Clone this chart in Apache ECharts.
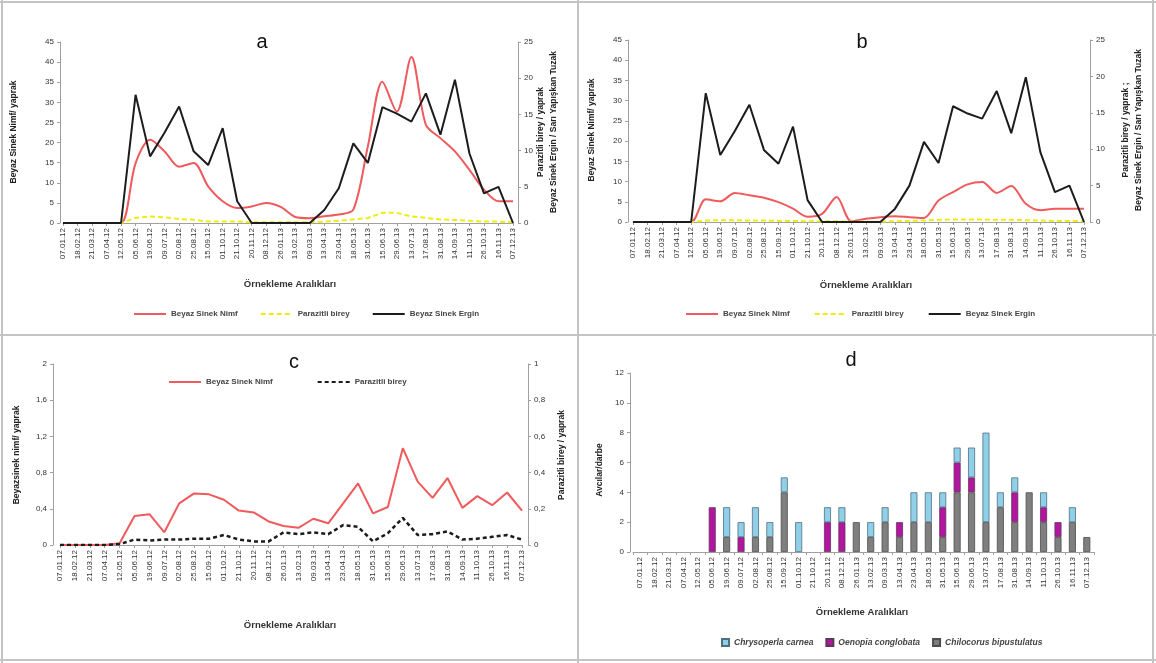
<!DOCTYPE html>
<html><head><meta charset="utf-8">
<script src="https://cdn.jsdelivr.net/npm/echarts@6/dist/echarts.min.js"></script>
<style>
body{margin:0;background:#fff;}
#wrap{position:relative;width:1156px;height:663px;background:#fff;overflow:hidden;}
.p{position:absolute;}
.ln{position:absolute;background:#c4c4c4;}
</style></head><body>
<div id="wrap">
<div id="pa" class="p" style="left:0;top:0;width:578px;height:336px"></div>
<div id="pb" class="p" style="left:578px;top:0;width:578px;height:336px"></div>
<div id="pc" class="p" style="left:0;top:336px;width:578px;height:327px"></div>
<div id="pd" class="p" style="left:578px;top:336px;width:578px;height:327px"></div>
<div class="ln" style="left:0;top:1px;width:1156px;height:2px"></div>
<div class="ln" style="left:1px;top:0;width:2px;height:663px"></div>
<div class="ln" style="left:1152px;top:0;width:2px;height:663px"></div>
<div class="ln" style="left:0;top:659px;width:1156px;height:2px"></div>
<div class="ln" style="left:577px;top:0;width:2px;height:663px"></div>
<div class="ln" style="left:0;top:334px;width:1156px;height:2px"></div>
</div>
<script>
const categories = ['07.01.12','18.02.12','21.03.12','07.04.12','12.05.12','05.06.12','19.06.12','09.07.12','02.08.12','25.08.12','15.09.12','01.10.12','21.10.12','20.11.12','08.12.12','26.01.13','13.02.13','09.03.13','13.04.13','23.04.13','18.05.13','31.05.13','15.06.13','29.06.13','13.07.13','17.08.13','31.08.13','14.09.13','11.10.13','26.10.13','16.11.13','07.12.13'];

// panel a
const nimfA    = [0,0,0,0,0,14.9,20.7,17.8,14.0,14.9,9.1,5.4,3.7,4.1,5.0,4.0,1.5,1.2,1.7,2.1,3.3,19,35.1,27.7,41.3,24.4,21.1,17.8,13.2,8.3,5.4,5.4];
const parazitA = [0,0,0,0,0,0.7,0.9,0.8,0.55,0.45,0.2,0.2,0.2,0.1,0.1,0.1,0.1,0.1,0.2,0.3,0.5,0.7,1.4,1.4,0.9,0.7,0.5,0.4,0.3,0.2,0.2,0.1];
const erginA   = [0,0,0,0,0,17.7,9.2,12.5,16.1,9.9,8.0,13.1,3.0,0,0,0,0,0,1.8,4.8,11.0,8.3,16.0,15.1,14.0,17.9,12.2,19.8,9.6,4.1,5.0,0];
// panel b
const nimfB    = [0,0,0,0,0,5.6,5.1,7.2,6.6,6.0,4.9,3.3,1.3,2.0,6.2,0.2,0.8,1.2,1.4,1.2,1.0,5.3,7.4,9.3,9.9,7.2,8.9,4.5,2.9,3.3,3.3,3.3];
const parazitB = [0,0,0,0,0,0.2,0.25,0.25,0.2,0.2,0.15,0.15,0.1,0.1,0.1,0.05,0.05,0.05,0.1,0.15,0.2,0.3,0.35,0.35,0.35,0.3,0.3,0.25,0.2,0.15,0.15,0.1];
const erginB   = [0,0,0,0,0,17.7,9.2,12.5,16.1,9.9,8.0,13.1,3.0,0,0,0,0,0,1.8,5.0,11.0,8.1,15.9,14.9,14.2,18.0,12.2,19.9,9.6,4.1,5.0,0];
// panel c
const nimfC    = [0,0,0,0,0.02,0.32,0.34,0.14,0.46,0.57,0.56,0.50,0.38,0.36,0.26,0.21,0.19,0.29,0.24,0.46,0.68,0.35,0.42,1.07,0.70,0.52,0.74,0.41,0.54,0.44,0.58,0.38];
const parazitC = [0,0,0,0,0.005,0.03,0.025,0.03,0.03,0.035,0.035,0.055,0.03,0.02,0.02,0.07,0.06,0.07,0.06,0.11,0.10,0.02,0.065,0.15,0.055,0.06,0.075,0.03,0.035,0.045,0.055,0.03];
// panel d
const chilocorus  = [0,0,0,0,0,0,1,0,1,1,4,0,0,0,0,2,1,2,1,2,2,1,4,4,2,3,2,4,2,1,2,1];
const oenopia     = [0,0,0,0,0,3,0,1,0,0,0,0,0,2,2,0,0,0,1,0,0,2,2,1,0,0,2,0,1,1,0,0];
const chrysoperla = [0,0,0,0,0,0,2,1,2,1,1,2,0,1,1,0,1,1,0,2,2,1,1,2,6,1,1,0,1,0,1,0];

const FONT = "'Liberation Sans', Arial, sans-serif";
const AX = '#a0a0a0';
const RED = '#f05a5c', YEL = '#eded10', BLK = '#1c1c1c';

function xAx(boundary){
  return {type:'category', data:categories, boundaryGap:boundary,
    axisLine:{lineStyle:{color:AX}}, axisTick:{show:true,length:3,lineStyle:{color:AX}},
    axisLabel:{rotate:90, interval:0, fontSize:8, color:'#333', fontFamily:FONT, margin:5}};
}
function yAx(min,max,interval,pos,offset,fmt){
  return {type:'value', min:min, max:max, interval:interval, position:pos, offset:offset,
    splitLine:{show:false}, axisLine:{show:true,lineStyle:{color:AX}},
    axisTick:{show:true,length:3,lineStyle:{color:AX}},
    axisLabel:{fontSize:8, color:'#333', fontFamily:FONT, margin:6, formatter:fmt}};
}
function txt(x,y,text,o){
  o = o || {};
  return {type:'text', x:x, y:y, rotation:o.rot||0, silent:true,
    style:{text:text, fontSize:o.size||9, fontFamily:FONT, fill:o.fill||'#222',
      fontWeight:o.weight||'normal', fontStyle:o.style||'normal',
      align:'center', verticalAlign:'middle', lineHeight:o.lh||13}};
}
const comma = v => String(Math.round(v*10)/10).replace('.', ',');
const R90 = Math.PI/2;

function legendLines(left, top, gap){
  return {left:left, top:top, itemWidth:32, itemHeight:10, itemGap:gap,
    itemStyle:{opacity:0},
    textStyle:{fontSize:8, color:'#444', fontFamily:FONT, fontWeight:'bold'},
    data:['Beyaz Sinek Nimf','Parazitli birey','Beyaz Sinek Ergin']};
}
function lineSeries(nimf, paraz, ergin){
  return [
    {name:'Beyaz Sinek Nimf', type:'line', data:nimf, yAxisIndex:0, smooth:0.3, symbol:'none',
      lineStyle:{color:RED, width:2}, itemStyle:{color:RED}},
    {name:'Parazitli birey', type:'line', data:paraz, yAxisIndex:1, symbol:'none',
      lineStyle:{color:YEL, width:2, type:[5,3]}, itemStyle:{color:YEL}},
    {name:'Beyaz Sinek Ergin', type:'line', data:ergin, yAxisIndex:1, symbol:'none',
      lineStyle:{color:BLK, width:2}, itemStyle:{color:BLK}}
  ];
}

// ---- Panel a
const ca = echarts.init(document.getElementById('pa'));
ca.setOption({
  animation:false,
  grid:{left:63, right:65, top:42, bottom:113},
  xAxis:xAx(false),
  yAxis:[yAx(0,45,5,'left',3), yAx(0,25,5,'right',5)],
  legend:legendLines(128, 305, 22),
  series:lineSeries(nimfA, parazitA, erginA),
  graphic:[
    txt(262,42,'a',{size:20,fill:'#111'}),
    txt(14,132,'Beyaz Sinek Nimf/ yaprak',{rot:R90,weight:'bold',size:8.5}),
    txt(547,132,'Parazitli birey / yaprak\nBeyaz Sinek Ergin / Sarı Yapışkan Tuzak',{rot:R90,weight:'bold',size:8.5}),
    txt(290,284,'Örnekleme Aralıkları',{size:9.5,weight:'bold',fill:'#333'})
  ]
});

// ---- Panel b
const cb = echarts.init(document.getElementById('pb'));
cb.setOption({
  animation:false,
  grid:{left:55, right:72, top:40, bottom:114},
  xAxis:xAx(false),
  yAxis:[yAx(0,45,5,'left',5), yAx(0,25,5,'right',6)],
  legend:legendLines(102, 305, 24),
  series:lineSeries(nimfB, parazitB, erginB),
  graphic:[
    txt(284,42,'b',{size:20,fill:'#111'}),
    txt(14,130,'Beyaz Sinek Nimf/ yaprak',{rot:R90,weight:'bold',size:8.5}),
    txt(554,130,'Parazitli birey / yaprak ;\nBeyaz Sinek Ergin / Sarı Yapışkan Tuzak',{rot:R90,weight:'bold',size:8.5}),
    txt(288,285,'Örnekleme Aralıkları',{size:9.5,weight:'bold',fill:'#333'})
  ]
});

// ---- Panel c
const cc = echarts.init(document.getElementById('pc'));
cc.setOption({
  animation:false,
  grid:{left:60, right:56, top:28, bottom:118},
  xAxis:xAx(false),
  yAxis:[yAx(0,2,0.4,'left',7,comma), yAx(0,1,0.2,'right',6,comma)],
  legend:{left:163, top:37, itemWidth:32, itemHeight:10, itemGap:44, itemStyle:{opacity:0},
    textStyle:{fontSize:8, color:'#444', fontFamily:FONT, fontWeight:'bold'},
    data:['Beyaz Sinek Nimf','Parazitli birey']},
  series:[
    {name:'Beyaz Sinek Nimf', type:'line', data:nimfC, yAxisIndex:0, symbol:'none',
      lineStyle:{color:RED, width:2}, itemStyle:{color:RED}},
    {name:'Parazitli birey', type:'line', data:parazitC, yAxisIndex:1, symbol:'none',
      lineStyle:{color:BLK, width:2.5, type:[4,3]}, itemStyle:{color:BLK}}
  ],
  graphic:[
    txt(294,26,'c',{size:20,fill:'#111'}),
    txt(17,119,'Beyazsinek nimf/ yaprak',{rot:R90,weight:'bold',size:8.5}),
    txt(562,119,'Parazitli birey / yaprak',{rot:R90,weight:'bold',size:8.5}),
    txt(290,289,'Örnekleme Aralıkları',{size:9.5,weight:'bold',fill:'#333'})
  ]
});

// ---- Panel d
const BLUE = '#8fd0e8', PURP = '#b3159f', GRAY = '#7f7f7f';
const nz = a => a.map(v => v === 0 ? null : v);
const cd = echarts.init(document.getElementById('pd'));
cd.setOption({
  animation:false,
  grid:{left:55, right:62, top:37, bottom:111},
  xAxis:xAx(true),
  yAxis:yAx(0,12,2,'left',3),
  legend:{left:138, top:297, itemWidth:7, itemHeight:7, itemGap:12, icon:'rect',
    textStyle:{fontSize:8.5, color:'#444', fontFamily:FONT, fontStyle:'italic', fontWeight:'bold'},
    data:['Chrysoperla carnea','Oenopia conglobata','Chilocorus bipustulatus']},
  series:[
    {name:'Chilocorus bipustulatus', type:'bar', stack:'s', data:nz(chilocorus), barWidth:7,
      itemStyle:{color:GRAY, borderColor:'#4d4d4d', borderWidth:0.8}},
    {name:'Oenopia conglobata', type:'bar', stack:'s', data:nz(oenopia), barWidth:7,
      itemStyle:{color:PURP, borderColor:'#5a3a5a', borderWidth:0.8}},
    {name:'Chrysoperla carnea', type:'bar', stack:'s', data:nz(chrysoperla), barWidth:7,
      itemStyle:{color:BLUE, borderColor:'#4f6f7f', borderWidth:0.8}}
  ],
  graphic:[
    txt(273,24,'d',{size:20,fill:'#111'}),
    txt(22,134,'Avcılar/darbe',{rot:R90,weight:'bold',size:8.5}),
    txt(284,276,'Örnekleme Aralıkları',{size:9.5,weight:'bold',fill:'#333'})
  ]
});
</script>
</body></html>
